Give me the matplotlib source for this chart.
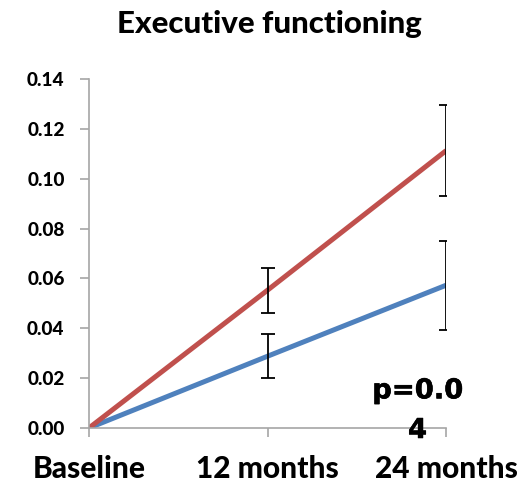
import matplotlib
matplotlib.use("Agg")
import matplotlib.pyplot as plt
import matplotlib.patheffects as pe

# Data
timepoints = ["Baseline", "12 months", "24 months"]
red_vals = [0.0, 0.0553, 0.1113]
red_err = [0.0, 0.0090, 0.0181]
blue_vals = [0.0, 0.0288, 0.0573]
blue_err = [0.0, 0.0089, 0.0178]
y_ticks = [0.00, 0.02, 0.04, 0.06, 0.08, 0.10, 0.12, 0.14]
p_text = "p=0.0\n4"

RED = "#C0504D"
BLUE = "#4F81BD"
GRAY = "#A6A6A6"

plt.rcParams['font.family'] = ['Lato', 'DejaVu Sans']

fig = plt.figure(figsize=(5.2, 4.82), dpi=100)
ax = fig.add_axes([0.171, 0.112, 0.687, 0.724])

x = list(range(len(timepoints)))

ax.plot(x, blue_vals, color=BLUE, linewidth=3.6, solid_capstyle="butt", zorder=2)
ax.plot(x, red_vals, color=RED, linewidth=3.6, solid_capstyle="butt", zorder=2)

# error bars only at follow-up points
ax.errorbar(x[1:], blue_vals[1:], yerr=blue_err[1:], fmt="none", ecolor="black",
            elinewidth=1.3, capsize=5, capthick=1.3, zorder=3)
ax.errorbar(x[1:], red_vals[1:], yerr=red_err[1:], fmt="none", ecolor="black",
            elinewidth=1.3, capsize=5, capthick=1.3, zorder=3)

ax.set_xlim(0, 2)
ax.set_ylim(0, 0.14)
ax.set_xticks(x)
ax.set_xticklabels(timepoints, fontsize=21.5, fontweight="black")
ax.set_yticks(y_ticks)
ax.set_yticklabels([f"{v:.2f}" for v in y_ticks], fontsize=13.7, fontweight="black")

for side in ["top", "right"]:
    ax.spines[side].set_visible(False)
for side in ["left", "bottom"]:
    ax.spines[side].set_color(GRAY)
    ax.spines[side].set_linewidth(1.2)
ax.tick_params(axis="both", direction="out", color=GRAY, width=1.2, length=6.5)
ax.tick_params(axis="x", pad=13)
ax.tick_params(axis="y", pad=11)

fig.text(0.518, 1 - 33 / 482, "Executive functioning", fontsize=22.5, fontweight="black",
         ha="center", va="baseline")

pt = ax.text(1.84, -0.004, p_text, fontsize=19.7, fontweight="bold", ha="center",
             va="baseline", family=["DejaVu Sans"], linespacing=1.68, zorder=4,
             clip_on=False)
pt.set_path_effects([pe.withStroke(linewidth=0.4, foreground="black")])

fig.savefig("out.png", dpi=100)
